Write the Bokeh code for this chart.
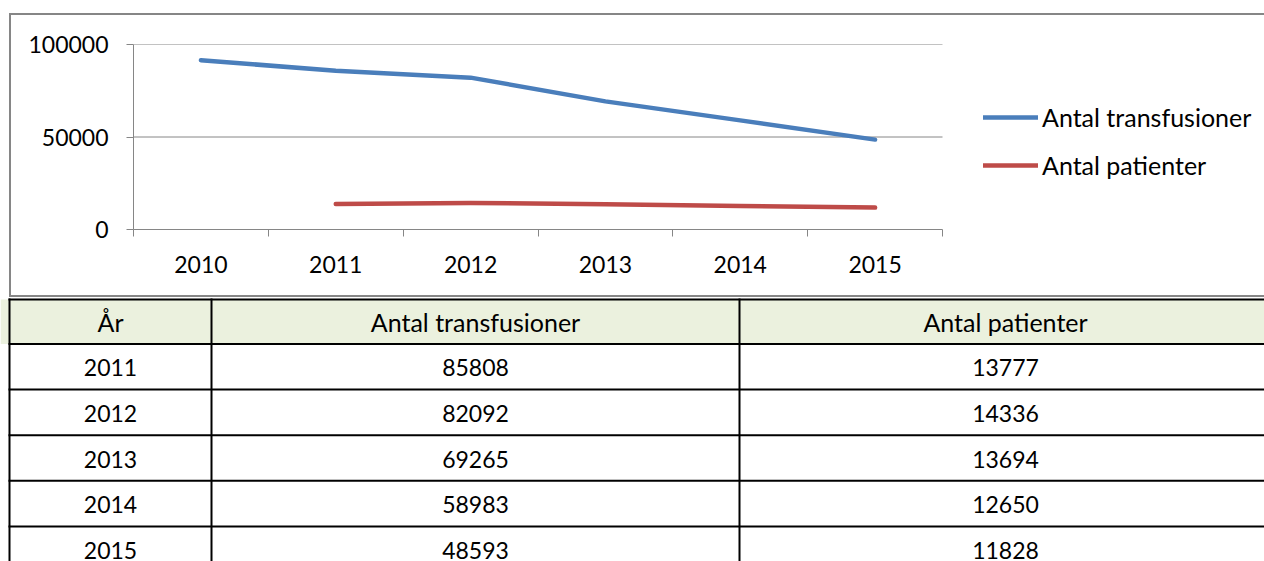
import numpy as np
from bokeh.plotting import figure
from bokeh.models import (Range1d, FixedTicker, NumeralTickFormatter, Legend,
                          LegendItem, ColumnDataSource)
from bokeh.core.properties import value
from bokeh.embed import file_html
from bokeh.resources import INLINE

# ---- data ----
years = [2010, 2011, 2012, 2013, 2014, 2015]
transfusioner = [91500, 85808, 82092, 69265, 58983, 48593]
patienter = [np.nan, 13777, 14336, 13694, 12650, 11828]
series_names = ["Antal transfusioner", "Antal patienter"]
y_ticks = [0, 50000, 100000]
table_header = ["År", "Antal transfusioner", "Antal patienter"]
table_years = [2011, 2012, 2013, 2014, 2015]
table_transfusioner = [85808, 82092, 69265, 58983, 48593]
table_patienter = [13777, 14336, 13694, 12650, 11828]

FONT = "Lato"
FS_NUM = "23px"
FS_TXT = "25px"
GRAY = "#868686"
BLUE = "#4A7EBB"
RED = "#BE4B48"

# ---- chart ----
CW, CH = 1255, 284
LEFT_B = 124
AXIS_PX = 809                      # width of the plotted category area
FRAME_PX = CW - LEFT_B             # frame runs to the right edge (legend lives inside)
x0 = years[0] - 0.5
x_axis_end = years[-1] + 0.5
x1 = x0 + (x_axis_end - x0) * FRAME_PX / AXIS_PX

p1 = figure(width=CW, height=CH, output_backend="svg", toolbar_location=None,
            x_range=Range1d(x0, x1),
            y_range=Range1d(y_ticks[0], y_ticks[-1]),
            min_border_left=LEFT_B, min_border_right=0,
            min_border_top=31, min_border_bottom=68)
p1.margin = (13, 0, 0, 9)
p1.styles = {"box-shadow": ("inset 2px 0 0 0 %s, inset 0 2px 0 0 %s, inset 0 -2px 0 0 %s"
                            % (GRAY, GRAY, GRAY)),
             "background-color": "white"}
p1.outline_line_color = None
p1.background_fill_alpha = 0
p1.border_fill_alpha = 0

boundaries = [y - 0.5 for y in years] + [years[-1] + 0.5]
xa = p1.xaxis[0]
xa.bounds = (x0, x_axis_end)
xa.ticker = FixedTicker(ticks=years, minor_ticks=boundaries)
xa.major_tick_out = 0
xa.major_tick_in = 0
xa.minor_tick_out = 7
xa.minor_tick_in = 0
xa.minor_tick_line_color = GRAY
xa.axis_line_color = GRAY
xa.major_label_standoff = 19
xa.major_label_text_font = FONT
xa.major_label_text_font_size = FS_NUM
xa.major_label_text_color = "black"

ya = p1.yaxis[0]
ya.ticker = FixedTicker(ticks=y_ticks, minor_ticks=[])
ya.formatter = NumeralTickFormatter(format="0")
ya.major_tick_out = 7
ya.major_tick_in = 0
ya.major_tick_line_color = GRAY
ya.axis_line_color = GRAY
ya.major_label_standoff = 18
ya.major_label_text_font = FONT
ya.major_label_text_font_size = FS_NUM
ya.major_label_text_color = "black"

p1.xgrid.visible = False
p1.ygrid.visible = False
gl = y_ticks[1:]
p1.segment(x0=[x0] * len(gl), x1=[x_axis_end] * len(gl), y0=gl, y1=gl,
           line_color=GRAY, line_width=1)

src = ColumnDataSource(dict(year=years, t=transfusioner, p=np.array(patienter, dtype=float)))
r1 = p1.line("year", "t", source=src, line_color=BLUE, line_width=4.5, line_cap="round", line_join="round")
r2 = p1.line("year", "p", source=src, line_color=RED, line_width=4.5, line_cap="round", line_join="round")

legend = Legend(items=[LegendItem(label=series_names[0], renderers=[r1]),
                       LegendItem(label=series_names[1], renderers=[r2])],
                location=(850, 49), glyph_width=55, glyph_height=30,
                label_height=30, spacing=18, label_standoff=4, padding=0,
                margin=0, border_line_color=None, background_fill_alpha=0,
                label_text_font=FONT, label_text_font_size=FS_TXT,
                label_text_color="black")
p1.add_layout(legend)

# ---- table ----
W, H = 1264, 264
p2 = figure(width=W, height=H, output_backend="svg", toolbar_location=None,
            x_range=Range1d(0, W), y_range=Range1d(H, 0),
            x_axis_type=None, y_axis_type=None, min_border=0)
p2.outline_line_color = None
p2.background_fill_color = "white"
p2.border_fill_color = "white"

top_y = 2
header_bottom = 46.5
row_h = 45.6
col_edges = [9, 211, 739]
col_centers = [110, 475, 1005]

p2.quad(left=[0], right=[W], top=[top_y], bottom=[header_bottom],
        fill_color="#EBF1DE", line_color=None)

n_rows = len(table_years)
h_lines = [top_y] + [header_bottom + i * row_h for i in range(n_rows + 1)]
p2.segment(x0=[col_edges[0] - 1] * len(h_lines), x1=[W] * len(h_lines), y0=h_lines, y1=h_lines,
           line_color="black", line_width=2)
p2.segment(x0=col_edges, x1=col_edges, y0=[top_y - 1] * 3, y1=[H] * 3,
           line_color="black", line_width=2)

p2.text(x=col_centers, y=[(top_y + header_bottom) / 2] * 3, text=table_header,
        text_font=value(FONT), text_font_size=value(FS_TXT), text_color="black",
        text_align="center", text_baseline="middle")

row_y = [header_bottom + row_h / 2 + 1 + i * row_h for i in range(n_rows)]
for cx, vals in zip(col_centers, [table_years, table_transfusioner, table_patienter]):
    p2.text(x=[cx] * n_rows, y=row_y, text=[str(v) for v in vals],
            text_font=value(FONT), text_font_size=value(FS_NUM), text_color="black",
            text_align="center", text_baseline="middle")

open("out.html", "w").write(file_html([p1, p2], INLINE))
